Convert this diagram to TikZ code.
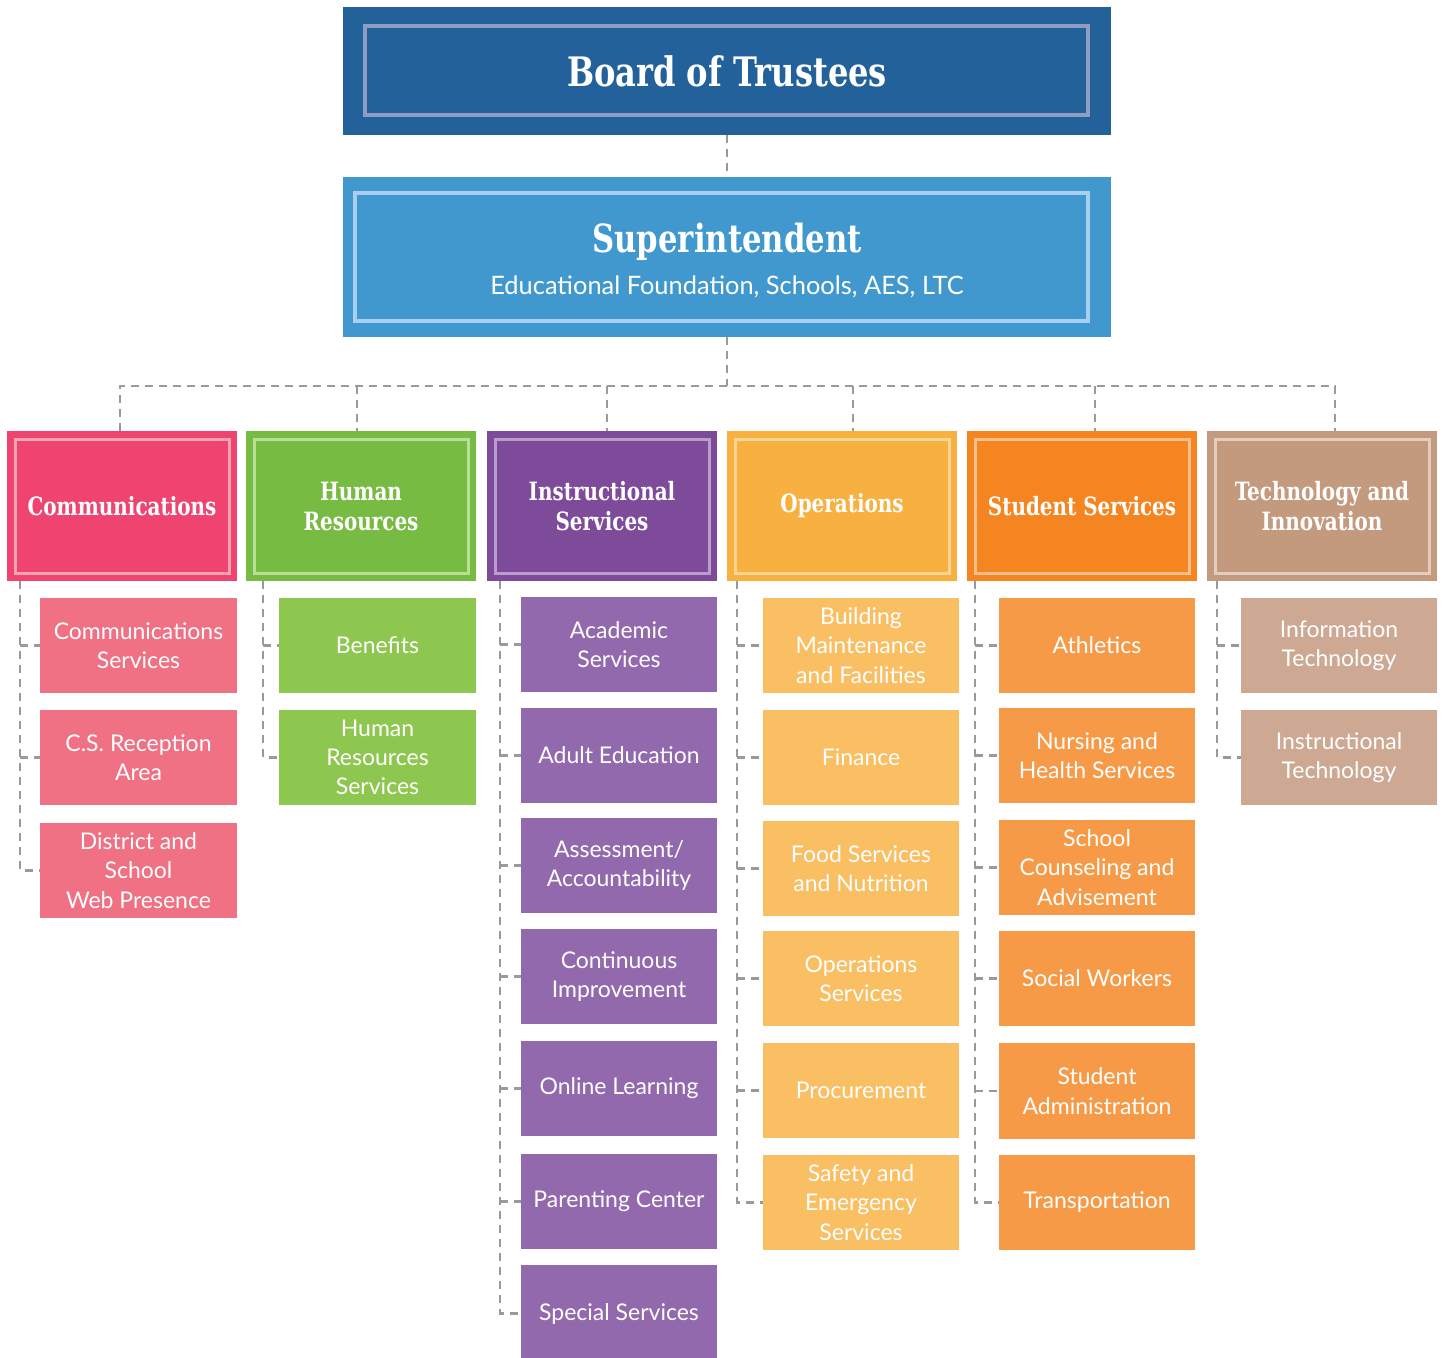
\documentclass[tikz,border=0pt]{standalone}
\usepackage{fontspec}
\setmainfont{Lato}
\newfontfamily\slab{DejaVu Serif Condensed}[FakeStretch=0.88]
\definecolor{boardc}{HTML}{23619A}
\definecolor{boardi}{HTML}{8F9DC3}
\definecolor{supc}{HTML}{4098CF}
\definecolor{supi}{HTML}{A8CFEF}
\definecolor{commc}{HTML}{EF4470}
\definecolor{commi}{HTML}{F4A3B3}
\definecolor{commk}{HTML}{F07084}
\definecolor{hrc}{HTML}{78BB43}
\definecolor{hri}{HTML}{B8DE9A}
\definecolor{hrk}{HTML}{8EC74F}
\definecolor{insc}{HTML}{7E4B9B}
\definecolor{insi}{HTML}{B99ECB}
\definecolor{insk}{HTML}{9269AD}
\definecolor{opsc}{HTML}{F8B040}
\definecolor{opsi}{HTML}{FBD596}
\definecolor{opsk}{HTML}{FABE63}
\definecolor{stuc}{HTML}{F58521}
\definecolor{stui}{HTML}{F9C08E}
\definecolor{stuk}{HTML}{F69A47}
\definecolor{tecc}{HTML}{C39A7E}
\definecolor{teci}{HTML}{E2CDBE}
\definecolor{teck}{HTML}{CDA994}
\definecolor{linec}{HTML}{9A9A9C}
\tikzset{
  boxbase/.style={rectangle, inner sep=0pt, outer sep=0pt, align=center, text=white},
  deptbox/.style={boxbase, font=\slab\bfseries\fontsize{12.6}{15}\selectfont},
  kidbox/.style={boxbase, font=\fontsize{11.5}{14.6}\selectfont},
  conn/.style={draw=linec, line width=1.4pt, dash pattern=on 4pt off 3pt},
  innerb/.style={line width=2.4pt},
  innerd/.style={line width=1.5pt},
}
\newcommand\bx[7]{\node[#6, minimum width={(#4-#2)*0.5pt}, minimum height={(#5-#3)*0.5pt}] (#1) at ({(#2+#4)/2},{(#3+#5)/2}) {#7};}
\newcommand\inb[3]{\draw[innerd, draw=#2] ([shift={(#3,#3)}]#1.north west) rectangle ([shift={(-#3,-#3)}]#1.south east);}
\begin{document}
\begin{tikzpicture}[x=0.5pt,y=-0.5pt]
\useasboundingbox (0,0) rectangle (1443,1357);
% top
\bx{board}{343}{7}{1111}{135}{boxbase,fill=boardc,font=\slab\bfseries\fontsize{20.3}{24}\selectfont}{Board of Trustees}
\draw[innerb, draw=boardi] (365,26) rectangle (1088,115);
\bx{sup}{343}{177}{1111}{337}{boxbase,fill=supc}{\raisebox{-5pt}[0pt][0pt]{\begin{tabular}{@{}c@{}}{\slab\bfseries\fontsize{19.4}{22}\selectfont Superintendent}\\[8pt]{\fontsize{12.7}{14}\selectfont Educational Foundation, Schools, AES, LTC}\end{tabular}}}
\draw[innerb, draw=supi] (355,193) rectangle (1088,321);
% departments
\bx{comm}{7}{431}{237}{581}{deptbox,fill=commc}{Communications}
\bx{hr}{246}{431}{476}{581}{deptbox,fill=hrc}{Human\\Resources}
\bx{ins}{487}{431}{717}{581}{deptbox,fill=insc}{Instructional\\Services}
\bx{ops}{727}{431}{957}{581}{deptbox,fill=opsc}{Operations}
\bx{stu}{967}{431}{1197}{581}{deptbox,fill=stuc}{Student Services}
\bx{tec}{1207}{431}{1437}{581}{deptbox,fill=tecc}{Technology and\\Innovation}
\inb{comm}{commi}{8}
\inb{hr}{hri}{8}
\inb{ins}{insi}{8}
\inb{ops}{opsi}{8}
\inb{stu}{stui}{8}
\inb{tec}{teci}{8}
% children
\bx{c1}{40}{598}{237}{693}{kidbox,fill=commk}{Communications\\Services}
\bx{c2}{40}{710}{237}{805}{kidbox,fill=commk}{C.S. Reception\\Area}
\bx{c3}{40}{823}{237}{918}{kidbox,fill=commk}{District and\\School\\Web Presence}
\bx{h1}{279}{598}{476}{693}{kidbox,fill=hrk}{Benefits}
\bx{h2}{279}{710}{476}{805}{kidbox,fill=hrk}{Human\\Resources\\Services}
\bx{i1}{521}{597}{717}{692}{kidbox,fill=insk}{Academic\\Services}
\bx{i2}{521}{708}{717}{803}{kidbox,fill=insk}{Adult Education}
\bx{i3}{521}{818}{717}{913}{kidbox,fill=insk}{Assessment/\\Accountability}
\bx{i4}{521}{929}{717}{1024}{kidbox,fill=insk}{Continuous\\Improvement}
\bx{i5}{521}{1041}{717}{1136}{kidbox,fill=insk}{Online Learning}
\bx{i6}{521}{1154}{717}{1249}{kidbox,fill=insk}{Parenting Center}
\bx{i7}{521}{1265}{717}{1362}{kidbox,fill=insk}{Special Services}
\bx{o1}{763}{598}{959}{693}{kidbox,fill=opsk}{Building\\Maintenance\\and Facilities}
\bx{o2}{763}{710}{959}{805}{kidbox,fill=opsk}{Finance}
\bx{o3}{763}{821}{959}{916}{kidbox,fill=opsk}{Food Services\\and Nutrition}
\bx{o4}{763}{931}{959}{1026}{kidbox,fill=opsk}{Operations\\Services}
\bx{o5}{763}{1043}{959}{1138}{kidbox,fill=opsk}{Procurement}
\bx{o6}{763}{1155}{959}{1250}{kidbox,fill=opsk}{Safety and\\Emergency\\Services}
\bx{s1}{999}{598}{1195}{693}{kidbox,fill=stuk}{Athletics}
\bx{s2}{999}{708}{1195}{803}{kidbox,fill=stuk}{Nursing and\\Health Services}
\bx{s3}{999}{820}{1195}{915}{kidbox,fill=stuk}{School\\Counseling and\\Advisement}
\bx{s4}{999}{931}{1195}{1026}{kidbox,fill=stuk}{Social Workers}
\bx{s5}{999}{1043}{1195}{1139}{kidbox,fill=stuk}{Student\\Administration}
\bx{s6}{999}{1155}{1195}{1250}{kidbox,fill=stuk}{Transportation}
\bx{t1}{1241}{598}{1437}{693}{kidbox,fill=teck}{Information\\Technology}
\bx{t2}{1241}{710}{1437}{805}{kidbox,fill=teck}{Instructional\\Technology}
% top connectors
\draw[conn] (board.south) -- (sup.north);
\coordinate (bus) at (727,386);
\draw[conn] (sup.south) -- (bus);
\coordinate (dc) at ([xshift=-1pt]comm.north);
\coordinate (dh) at ([xshift=-2pt]hr.north);
\coordinate (di) at ([xshift=2.5pt]ins.north);
\coordinate (do) at ([xshift=5.5pt]ops.north);
\coordinate (ds) at ([xshift=6.5pt]stu.north);
\coordinate (dt) at ([xshift=6.5pt]tec.north);
\draw[conn] (dc) -- (dc |- bus) -- (dt |- bus) -- (dt);
\foreach \d in {dh,di,do,ds} \draw[conn] (\d |- bus) -- (\d);
% child spines
\coordinate (sc) at ([xshift=6.5pt]comm.south west);
\coordinate (sh) at ([xshift=8.5pt]hr.south west);
\coordinate (si) at ([xshift=6.5pt]ins.south west);
\coordinate (so) at ([xshift=5pt]ops.south west);
\coordinate (ss) at ([xshift=4pt]stu.south west);
\coordinate (st) at ([xshift=5pt]tec.south west);
\draw[conn] (sc) |- (c3.west);
\foreach \k in {c1,c2} \draw[conn] (\k.west -| sc) -- (\k.west);
\draw[conn] (sh) |- (h2.west);
\draw[conn] (h1.west -| sh) -- (h1.west);
\draw[conn] (si) |- (i7.west);
\foreach \k in {i1,i2,i3,i4,i5,i6} \draw[conn] (\k.west -| si) -- (\k.west);
\draw[conn] (so) |- (o6.west);
\foreach \k in {o1,o2,o3,o4,o5} \draw[conn] (\k.west -| so) -- (\k.west);
\draw[conn] (ss) |- (s6.west);
\foreach \k in {s1,s2,s3,s4,s5} \draw[conn] (\k.west -| ss) -- (\k.west);
\draw[conn] (st) |- (t2.west);
\draw[conn] (t1.west -| st) -- (t1.west);
\end{tikzpicture}
\end{document}
